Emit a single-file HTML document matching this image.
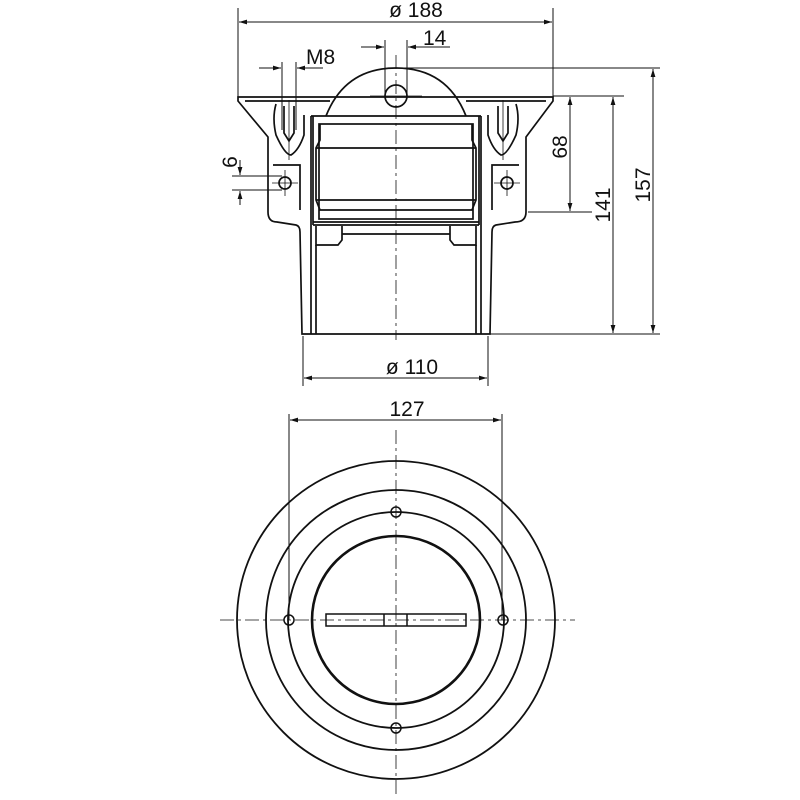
<!DOCTYPE html>
<html><head><meta charset="utf-8"><style>
html,body{margin:0;padding:0;background:#fff;}
svg{display:block}
text{font-family:"Liberation Sans","DejaVu Sans",sans-serif;fill:#111}
</style></head><body>
<svg width="800" height="800" viewBox="0 0 800 800" xmlns="http://www.w3.org/2000/svg">
<defs>
<marker id="a" viewBox="0 0 10 6" refX="10" refY="3" markerWidth="8" markerHeight="5" orient="auto-start-reverse"><path d="M0,0L10,3L0,6z" fill="#111"/></marker>
</defs>
<g fill="none" stroke="#111" stroke-width="1">
<line x1="238" y1="8" x2="238" y2="97"/>
<line x1="553" y1="8" x2="553" y2="97"/>
<line x1="239" y1="22" x2="552" y2="22" marker-start="url(#a)" marker-end="url(#a)"/>
<line x1="385" y1="40" x2="385" y2="96"/>
<line x1="407" y1="40" x2="407" y2="96"/>
<line x1="361" y1="47" x2="384" y2="47" marker-end="url(#a)"/>
<line x1="408" y1="47" x2="450" y2="47" marker-start="url(#a)"/>
<line x1="282" y1="62" x2="282" y2="130"/>
<line x1="296" y1="62" x2="296" y2="130"/>
<line x1="259" y1="68" x2="281" y2="68" marker-end="url(#a)"/>
<line x1="297" y1="68" x2="323" y2="68" marker-start="url(#a)"/>
<line x1="232" y1="176" x2="282" y2="176"/>
<line x1="232" y1="190" x2="282" y2="190"/>
<line x1="240" y1="160" x2="240" y2="175" marker-end="url(#a)"/>
<line x1="240" y1="191" x2="240" y2="205" marker-start="url(#a)"/>
<line x1="396" y1="68" x2="660" y2="68"/>
<line x1="553" y1="96" x2="624" y2="96"/>
<line x1="528" y1="212" x2="592" y2="212"/>
<line x1="490" y1="334" x2="660" y2="334"/>
<line x1="570" y1="97" x2="570" y2="211" marker-start="url(#a)" marker-end="url(#a)"/>
<line x1="613" y1="97" x2="613" y2="333" marker-start="url(#a)" marker-end="url(#a)"/>
<line x1="653" y1="69" x2="653" y2="333" marker-start="url(#a)" marker-end="url(#a)"/>
<line x1="303" y1="336" x2="303" y2="386"/>
<line x1="488" y1="336" x2="488" y2="386"/>
<line x1="304" y1="378" x2="487" y2="378" marker-start="url(#a)" marker-end="url(#a)"/>
<line x1="289" y1="414" x2="289" y2="620"/>
<line x1="502" y1="414" x2="502" y2="620"/>
<line x1="290" y1="420" x2="501" y2="420" marker-start="url(#a)" marker-end="url(#a)"/>
</g>
<g font-size="21">
<text x="416" y="17" text-anchor="middle">ø 188</text>
<text x="423" y="45">14</text>
<text x="306" y="64">M8</text>
<text x="412" y="374" text-anchor="middle">ø 110</text>
<text x="407" y="416" text-anchor="middle">127</text>
<text transform="translate(237,162) rotate(-90)" text-anchor="middle">6</text>
<text transform="translate(567,147) rotate(-90)" text-anchor="middle">68</text>
<text transform="translate(610,205) rotate(-90)" text-anchor="middle">141</text>
<text transform="translate(650,185) rotate(-90)" text-anchor="middle">157</text>
</g>
<g fill="none" stroke="#111" stroke-width="1.7">
<path d="M238,97 L553,97 L553,101 L526,137 L526,212 Q526,222 515,222 L496,225 Q492,226 492,232 L490,334 L302,334 L300,232 Q300,226 296,225 L277,222 Q268,222 268,212 L268,137 L238,101 Z"/>
<path d="M245,101 L330,101 M466,101 L546,101"/>
<path d="M326,116 Q345,68 396,68 Q447,68 466,116"/>
<circle cx="396" cy="96" r="11"/>
<path d="M311,116 L481,116"/>
<line x1="311" y1="116" x2="311" y2="334"/>
<line x1="481" y1="116" x2="481" y2="334"/>
<line x1="313" y1="116" x2="313" y2="225"/>
<line x1="479" y1="116" x2="479" y2="225"/>
<rect x="319" y="124" width="154" height="95"/>
<path d="M320,124 L320,140 L316,148 L316,200 L320,210 L472,210 L476,200 L476,148 L472,140 L472,124"/>
<line x1="316" y1="148" x2="476" y2="148"/>
<line x1="316" y1="200" x2="476" y2="200"/>
<line x1="313" y1="222" x2="479" y2="222"/>
<line x1="313" y1="225" x2="479" y2="225"/>
<path d="M316,226 L316,245 L338,245 L342,240 L342,226"/>
<path d="M476,226 L476,245 L454,245 L450,240 L450,226"/>
<line x1="342" y1="234" x2="450" y2="234"/>
<line x1="316" y1="245" x2="316" y2="334"/>
<line x1="476" y1="245" x2="476" y2="334"/>
<path d="M276,104 Q272,118 276,135 Q285,155 291,155 Q299,150 304,135 L304,115"/>
<path d="M516,104 Q520,118 516,135 Q507,155 501,155 Q493,150 488,135 L488,115"/>
<path d="M284,106 L284,133 L289,141 L294,133 L294,106"/>
<path d="M498,106 L498,133 L503,141 L508,133 L508,106"/>
<path d="M273,165 L300,165 L300,210 M519,165 L492,165 L492,210"/>
<circle cx="285" cy="183" r="6"/>
<circle cx="507" cy="183" r="6"/>
</g>
<g stroke="#111" stroke-width="0.8" fill="none">
<line x1="396" y1="55" x2="396" y2="340" stroke-dasharray="14,4,3,4"/>
<line x1="370" y1="96" x2="422" y2="96"/>
<line x1="272" y1="183" x2="298" y2="183"/><line x1="285" y1="170" x2="285" y2="196"/>
<line x1="494" y1="183" x2="520" y2="183"/><line x1="507" y1="170" x2="507" y2="196"/>
<line x1="289" y1="100" x2="289" y2="160"/><line x1="503" y1="100" x2="503" y2="160"/>
</g>
<g fill="none" stroke="#111">
<line x1="396" y1="430" x2="396" y2="798" stroke-width="0.8" stroke-dasharray="14,4,3,4"/>
<line x1="220" y1="620" x2="575" y2="620" stroke-width="0.8" stroke-dasharray="14,4,3,4"/>
<circle cx="396" cy="620" r="159" stroke-width="1.8"/>
<circle cx="396" cy="620" r="130" stroke-width="1.8"/>
<circle cx="396" cy="620" r="108" stroke-width="1.8"/>
<circle cx="396" cy="620" r="84" stroke-width="2.6"/>
<circle cx="396" cy="512" r="5" stroke-width="1.5"/>
<circle cx="396" cy="728" r="5" stroke-width="1.5"/>
<circle cx="289" cy="620" r="5" stroke-width="1.5"/>
<circle cx="503" cy="620" r="5" stroke-width="1.5"/>
<rect x="326" y="614" width="140" height="12" stroke-width="1.5"/>
<line x1="384" y1="614" x2="384" y2="626" stroke-width="1.5"/>
<line x1="407" y1="614" x2="407" y2="626" stroke-width="1.5"/>
</g>
</svg>
</body></html>
